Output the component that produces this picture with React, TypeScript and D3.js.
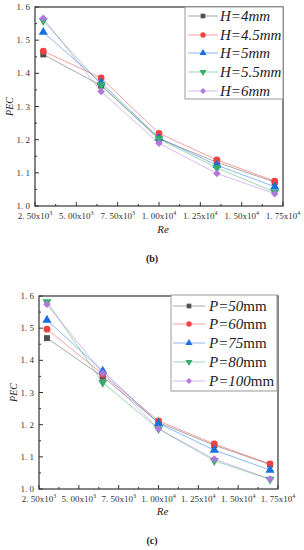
import * as d3 from "d3";

// Re values shared by both panels
const RE = [3000, 6500, 10000, 13500, 17000];
const X_TICKS = [2500, 5000, 7500, 10000, 12500, 15000, 17500];
const X_TICK_LABELS = [
  ["2. 50x10", "3"],
  ["5. 00x10", "3"],
  ["7. 50x10", "3"],
  ["1. 00x10", "4"],
  ["1. 25x10", "4"],
  ["1. 50x10", "4"],
  ["1. 75x10", "4"],
];
const Y_TICKS = [1.0, 1.1, 1.2, 1.3, 1.4, 1.5, 1.6];

// panel (b): fin height H
const H_LABELS = ["4", "4.5", "5", "5.5", "6"];
const H_4 = [1.457, 1.363, 1.203, 1.132, 1.072];
const H_45 = [1.467, 1.386, 1.219, 1.139, 1.075];
const H_5 = [1.524, 1.372, 1.205, 1.123, 1.058];
const H_55 = [1.559, 1.365, 1.202, 1.115, 1.042];
const H_6 = [1.566, 1.345, 1.189, 1.098, 1.037];

// panel (c): pitch P
const P_LABELS = ["50", "60", "75", "80", "100"];
const P_50 = [1.469, 1.349, 1.207, 1.136, 1.076];
const P_60 = [1.497, 1.357, 1.212, 1.14, 1.078];
const P_75 = [1.525, 1.367, 1.204, 1.121, 1.059];
const P_80 = [1.582, 1.331, 1.187, 1.088, 1.03];
const P_100 = [1.574, 1.36, 1.187, 1.093, 1.031];

const COLORS = ["#515151", "#F14040", "#1A6FDF", "#37AD6B", "#B177DE"];
const SYMBOLS = [d3.symbolSquare, d3.symbolCircle, d3.symbolTriangle, d3.symbolTriangle, d3.symbolDiamond2];
const ROT = [0, 0, 0, 180, 0];

const SERIF = "'Liberation Serif', 'DejaVu Serif', serif";

interface PanelProps {
  top: number;
  bottom: number;
  left: number;
  right: number;
  series: number[][];
  letter: string;
  labels: string[];
  italicUnit: boolean;
  legend: { x0: number; x1: number; y0: number; y1: number; rows: number[]; lineX0: number; lineX1: number; textX: number };
  reY: number;
  captionY: number;
}

function Marker({ i, x, y, size }: { i: number; x: number; y: number; size: number }) {
  const path = d3.symbol(SYMBOLS[i], size)() as string;
  return (
    <path
      d={path}
      transform={`translate(${x},${y}) rotate(${ROT[i]})`}
      fill={COLORS[i]}
    />
  );
}

function Panel(p: PanelProps) {
  const x = d3.scaleLinear().domain([2500, 17500]).range([p.left, p.right]);
  const y = d3.scaleLinear().domain([1.0, 1.6]).range([p.bottom, p.top]);
  const line = d3
    .line<number>()
    .x((_, j) => x(RE[j]))
    .y((d) => y(d));
  const minorX = X_TICKS.slice(0, -1).map((t) => t + 1250);
  const minorY = Y_TICKS.slice(0, -1).map((t) => t + 0.05);
  const lg = p.legend;
  const midY = (p.top + p.bottom) / 2;

  return (
    <g>
      {/* lines then markers */}
      {p.series.map((s, i) => (
        <path key={"l" + i} d={line(s) as string} fill="none" stroke={COLORS[i]} strokeOpacity={0.5} strokeWidth={1} />
      ))}
      {p.series.map((s, i) =>
        s.map((v, j) => <Marker key={`m${i}-${j}`} i={i} x={x(RE[j])} y={y(v)} size={36} />)
      )}

      {/* frame */}
      <rect x={p.left} y={p.top} width={p.right - p.left} height={p.bottom - p.top} fill="none" stroke="#333" strokeWidth={1.2} />

      {/* x ticks */}
      {X_TICKS.map((t, k) => (
        <g key={"xt" + k}>
          <line x1={x(t)} x2={x(t)} y1={p.bottom} y2={p.bottom - 4} stroke="#333" />
          <text x={x(t)} y={p.bottom + 13} textAnchor="middle" fontFamily={SERIF} fontSize={9} fill="#333">
            {X_TICK_LABELS[k][0]}
            <tspan dy={-4} fontSize={6}>{X_TICK_LABELS[k][1]}</tspan>
          </text>
        </g>
      ))}
      {minorX.map((t, k) => (
        <line key={"xm" + k} x1={x(t)} x2={x(t)} y1={p.bottom} y2={p.bottom - 2} stroke="#333" />
      ))}

      {/* y ticks */}
      {Y_TICKS.map((t, k) => (
        <g key={"yt" + k}>
          <line x1={p.left} x2={p.left + 4} y1={y(t)} y2={y(t)} stroke="#333" />
          <text x={p.left - 5} y={y(t) + 3} textAnchor="end" fontFamily={SERIF} fontSize={9} fill="#333">
            {t.toFixed(1).replace(".", ". ")}
          </text>
        </g>
      ))}
      {minorY.map((t, k) => (
        <line key={"ym" + k} x1={p.left} x2={p.left + 2} y1={y(t)} y2={y(t)} stroke="#333" />
      ))}

      {/* axis titles */}
      <text
        transform={`translate(${p.left - 22},${midY}) rotate(-90)`}
        textAnchor="middle"
        fontFamily={SERIF}
        fontStyle="italic"
        fontSize={10}
        fill="#222"
      >
        PEC
      </text>
      <text x={(p.left + p.right) / 2 + 4} y={p.reY} textAnchor="middle" fontFamily={SERIF} fontStyle="italic" fontSize={11} fill="#222">
        Re
      </text>
      <text x={152} y={p.captionY} textAnchor="middle" fontFamily={SERIF} fontWeight="bold" fontSize={10} fill="#222">
        ({p.letter})
      </text>

      {/* legend */}
      <rect x={lg.x0} y={lg.y0} width={lg.x1 - lg.x0} height={lg.y1 - lg.y0} fill="#fff" stroke="#999" strokeWidth={1} />
      {p.labels.map((lab, i) => (
        <g key={"lg" + i}>
          <line x1={lg.lineX0} x2={lg.lineX1} y1={lg.rows[i]} y2={lg.rows[i]} stroke={COLORS[i]} strokeOpacity={0.5} />
          <Marker i={i} x={(lg.lineX0 + lg.lineX1) / 2} y={lg.rows[i]} size={22} />
          <text x={lg.textX} y={lg.rows[i] + 5} fontFamily={SERIF} fontSize={15} fill="#222">
            <tspan fontStyle="italic">{p.letter === "b" ? "H" : "P"}={lab}</tspan>
            <tspan fontStyle={p.italicUnit ? "italic" : "normal"}>mm</tspan>
          </text>
        </g>
      ))}
    </g>
  );
}

export default function App() {
  return (
    <svg width={304} height={550} style={{ position: "absolute", left: 0, top: 0, background: "#fff" }}>
      <Panel
        top={7}
        bottom={206}
        left={35}
        right={283}
        series={[H_4, H_45, H_5, H_55, H_6]}
        letter="b"
        labels={H_LABELS}
        italicUnit={true}
        legend={{ x0: 185, x1: 283, y0: 7, y1: 99, rows: [16, 35, 53, 72, 91], lineX0: 188, lineX1: 218, textX: 220 }}
        reY={233}
        captionY={262}
      />
      <Panel
        top={296}
        bottom={489}
        left={39}
        right={278}
        series={[P_50, P_60, P_75, P_80, P_100]}
        letter="c"
        labels={P_LABELS}
        italicUnit={false}
        legend={{ x0: 171, x1: 277, y0: 295, y1: 391, rows: [306, 324, 343, 362, 381], lineX0: 173, lineX1: 205, textX: 209 }}
        reY={515}
        captionY={544}
      />
    </svg>
  );
}
